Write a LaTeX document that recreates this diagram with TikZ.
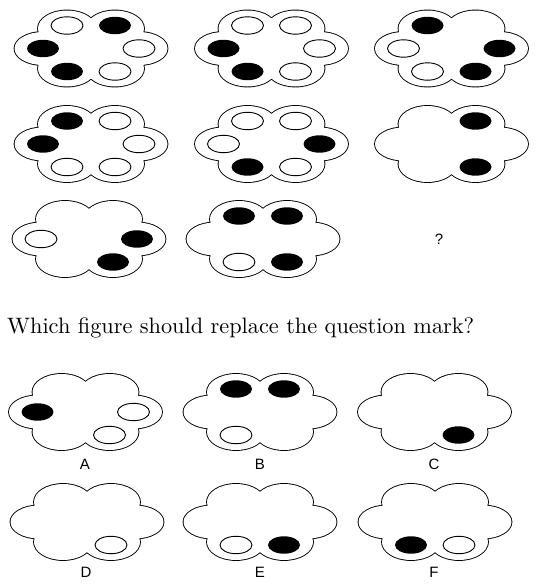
\documentclass[tikz,border=0pt]{standalone}
\usepackage{fontspec}
\usepackage{graphicx}
\setsansfont{Liberation Sans}
\tikzset{
  lobe/.style={draw=black, line width=1.8pt},
  hw/.style={draw=black, line width=0.9pt, fill=white},
  hk/.style={fill=black},
  hn/.style={},
  lbl/.style={font=\sffamily\fontsize{15}{17}\selectfont, inner sep=0pt}
}
% #1 centre, then holes: top left, top right, right, bottom right, bottom left, left
\newcommand{\flower}[7]{%
  \begin{scope}[shift={(#1)}]
    \foreach \a/\b in {-24/-20,24/-20,-24/20,24/20}
      \draw[lobe] (\a,\b) ellipse[x radius=29pt, y radius=18pt];
    \foreach \a in {-48,48}
      \draw[lobe] (\a,0) ellipse[x radius=28.5pt, y radius=16.5pt];
    \foreach \a/\b in {-24/-20,24/-20,-24/20,24/20}
      \fill[white] (\a,\b) ellipse[x radius=29pt, y radius=18pt];
    \foreach \a in {-48,48}
      \fill[white] (\a,0) ellipse[x radius=28.5pt, y radius=16.5pt];
    \fill[white] (-45,-20) rectangle (45,20);
    \path[#2] (-24,-23) ellipse[x radius=16pt, y radius=8.7pt];
    \path[#3] (24,-23) ellipse[x radius=16pt, y radius=8.7pt];
    \path[#4] (48,0) ellipse[x radius=16pt, y radius=8.7pt];
    \path[#5] (24,23) ellipse[x radius=16pt, y radius=8.7pt];
    \path[#6] (-24,23) ellipse[x radius=16pt, y radius=8.7pt];
    \path[#7] (-48,0) ellipse[x radius=16pt, y radius=8.7pt];
  \end{scope}}
\begin{document}
\begin{tikzpicture}[x=1pt, y=-1pt]
  \useasboundingbox (0,0) rectangle (538,587);
  % the series
  \flower{91,48.5}{hw}{hk}{hw}{hw}{hk}{hk}
  \flower{271.5,48.5}{hw}{hw}{hw}{hw}{hk}{hk}
  \flower{451.5,48.5}{hk}{hn}{hk}{hk}{hw}{hw}
  \flower{91,144}{hk}{hw}{hw}{hw}{hw}{hk}
  \flower{271.5,144}{hw}{hw}{hk}{hw}{hk}{hw}
  \flower{451.5,144}{hn}{hk}{hn}{hk}{hn}{hn}
  \flower{89,239}{hn}{hn}{hk}{hk}{hn}{hw}
  \flower{263,239}{hk}{hk}{hn}{hk}{hw}{hn}
  \node[lbl] (qmark) at (439,239) {?};
  \node[anchor=base west, inner sep=0pt] (question) at (7,333)
    {\resizebox{467pt}{!}{Which figure should replace the question mark?}};
  % the answers
  \flower{85.5,412}{hn}{hn}{hw}{hw}{hn}{hk}
  \flower{260,412}{hk}{hk}{hn}{hn}{hw}{hn}
  \flower{434.5,412}{hn}{hn}{hn}{hk}{hn}{hn}
  \flower{87,522}{hn}{hn}{hn}{hw}{hn}{hn}
  \flower{260,522}{hn}{hn}{hn}{hk}{hw}{hn}
  \flower{435,522}{hn}{hn}{hn}{hw}{hk}{hn}
  \node[lbl] (lblA) at (85,464) {A};
  \node[lbl] (lblB) at (260,464) {B};
  \node[lbl] (lblC) at (434,464) {C};
  \node[lbl] (lblD) at (86,572) {D};
  \node[lbl] (lblE) at (260,572) {E};
  \node[lbl] (lblF) at (434,572) {F};
\end{tikzpicture}
\end{document}
